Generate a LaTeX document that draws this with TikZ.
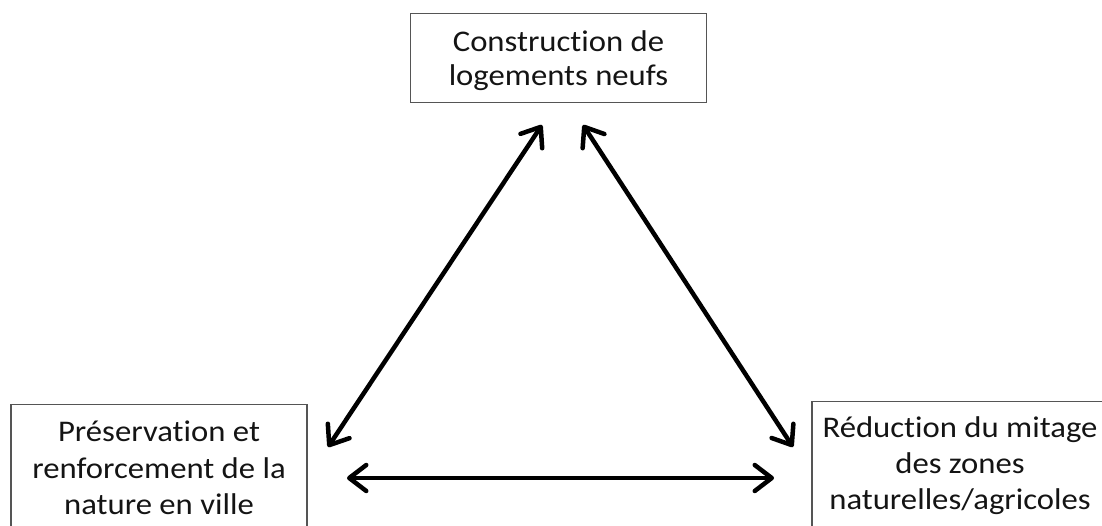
\documentclass[tikz,border=0pt]{standalone}
\usepackage{fontspec}
\setmainfont[Ligatures=NoCommon, FakeStretch=1.09]{Carlito}
\usetikzlibrary{arrows.meta}
\definecolor{boxline}{RGB}{85,85,85}
\definecolor{ink}{RGB}{20,20,20}
\begin{document}
\begin{tikzpicture}[x=1pt,y=-1pt,
  box/.style={draw=boxline, line width=1.3pt, align=center, text=ink,
    inner xsep=0pt, inner ysep=0pt, minimum width=296pt, anchor=north},
  link/.style={line width=4.5pt, line cap=round,
    {Straight Barb[length=17pt,width=26pt,line cap=round,line join=round]}-{Straight Barb[length=17pt,width=26pt,line cap=round,line join=round]}}]
  \useasboundingbox (0,0) rectangle (1102,525);
  \clip (0,0) rectangle (1102,525);

  % the three goals (text height = top edge to last baseline)
  \node[box, font=\fontsize{30}{34}\selectfont, text height=71.5pt, text depth=17.5pt]
    (logements) at (558.5,13) {Construction de\\logements neufs};
  \node[box, font=\fontsize{30}{36.5}\selectfont, text height=110pt, text depth=40pt]
    (nature) at (159,404) {Préservation et\\renforcement de la\\nature en ville};
  \node[box, font=\fontsize{30}{36}\selectfont, text height=107.5pt, text depth=40pt]
    (mitage) at (960,401) {Réduction du mitage\\des zones\\naturelles/agricoles};

  % arrow ends next to the boxes
  \coordinate (nTop) at (328,447);
  \coordinate (lLeft) at (542,125);
  \coordinate (lRight) at (583,125);
  \coordinate (mTop) at (793,447);
  \coordinate (nSide) at (347,478);
  \coordinate (mSide) at (774,478);

  % mutual tensions between the goals
  \draw[link] (nTop) -- (lLeft);
  \draw[link] (lRight) -- (mTop);
  \draw[link] (nSide) -- (mSide);
\end{tikzpicture}
\end{document}
